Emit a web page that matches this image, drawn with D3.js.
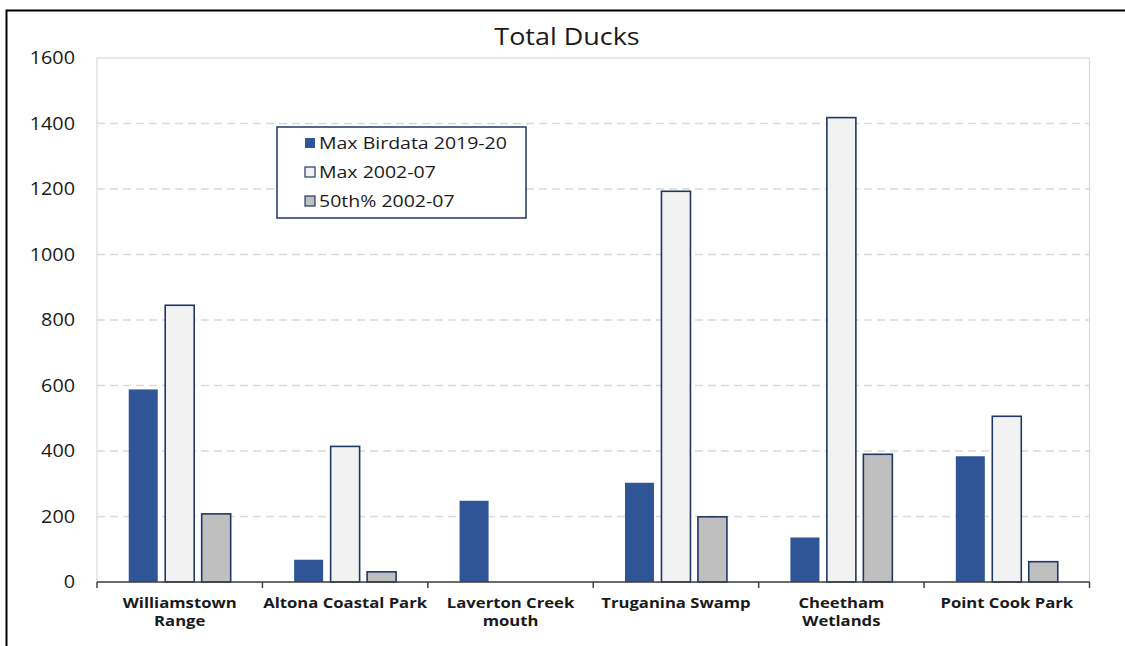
<!DOCTYPE html>
<html>
<head>
<meta charset="utf-8">
<script src="https://cdn.jsdelivr.net/npm/d3@7"></script>
<style>
  html, body { margin: 0; padding: 0; background: #fff; }
  svg { display: block; }
  text { font-family: "Open Sans", "DejaVu Sans", sans-serif; fill: #1a1a1a; }
</style>
</head>
<body>
<svg id="chart" width="1125" height="646"></svg>
<script>
// Sites surveyed (line breaks mark where the axis label wraps)
const categories = [
  "Williamstown\nRange",
  "Altona Coastal Park",
  "Laverton Creek\nmouth",
  "Truganina Swamp",
  "Cheetham\nWetlands",
  "Point Cook Park"
];
const seriesNames = ["Max Birdata 2019-20", "Max 2002-07", "50th% 2002-07"];
const maxBirdata1920 = [588, 68, 248, 303, 136, 384];
const max0207 = [845, 414, 0, 1193, 1418, 506];
const p50_0207 = [208, 31, 0, 199, 390, 62];
const yTicks = [0, 200, 400, 600, 800, 1000, 1200, 1400, 1600];

const seriesValues = [maxBirdata1920, max0207, p50_0207];
const fills = ["#2F5597", "#F2F2F2", "#BFBFBF"];
const strokes = ["#2F5597", "#203864", "#203864"];

const svg = d3.select("#chart");

// outer frame
svg.append("path")
  .attr("d", "M6.5,646 L6.5,10.5 L1125,10.5")
  .attr("fill", "none").attr("stroke", "#000").attr("stroke-width", 2);

const plot = { left: 97, right: 1089.5, top: 58, bottom: 582 };

const y = d3.scaleLinear().domain([0, 1600]).range([plot.bottom, plot.top]);
const x0 = d3.scaleBand().domain(categories).range([plot.left, plot.right]).padding(0);
const x1 = d3.scaleBand().domain(d3.range(seriesNames.length))
  .range([0, x0.bandwidth()]).paddingInner(0.205).paddingOuter(0.87);

// plot area outline
svg.append("rect")
  .attr("x", plot.left).attr("y", plot.top)
  .attr("width", plot.right - plot.left).attr("height", plot.bottom - plot.top)
  .attr("fill", "none").attr("stroke", "#d9d9d9").attr("stroke-width", 1.2);

// dashed gridlines
svg.append("g").selectAll("line")
  .data(yTicks.filter(t => t > 0 && t < 1600))
  .join("line")
  .attr("x1", plot.left).attr("x2", plot.right)
  .attr("y1", d => y(d)).attr("y2", d => y(d))
  .attr("stroke", "#d9d9d9").attr("stroke-width", 1.3)
  .attr("stroke-dasharray", "8,5");

// y axis labels (slightly widened glyphs)
const yAxis = d3.axisLeft(y).tickValues(yTicks).tickFormat(d3.format("d"))
  .tickSize(0).tickPadding(20);
const gy = svg.append("g").attr("transform", `translate(${plot.left},0)`).call(yAxis);
gy.select(".domain").remove();
gy.selectAll("text")
  .style("font-family", '"Open Sans", sans-serif')
  .style("font-size", "18px").attr("fill", "#1a1a1a")
  .attr("transform", "scale(1.1,1)");

// bars
const groups = svg.append("g").selectAll("g")
  .data(categories)
  .join("g")
  .attr("transform", d => `translate(${x0(d)},0)`);

groups.selectAll("rect")
  .data((d, i) => seriesValues.map((vals, s) => ({ s, v: vals[i] })))
  .join("rect")
  .filter(d => d.v > 0)
  .attr("x", d => x1(d.s))
  .attr("width", x1.bandwidth())
  .attr("y", d => y(d.v))
  .attr("height", d => y(0) - y(d.v))
  .attr("fill", d => fills[d.s])
  .attr("stroke", d => strokes[d.s])
  .attr("stroke-width", d => d.s === 0 ? 0 : 1.6);

// x axis with boundary ticks
const boundaries = categories.map(c => x0(c)).concat([plot.right]);
const gx = svg.append("g");
gx.append("line")
  .attr("x1", plot.left).attr("x2", plot.right)
  .attr("y1", y(0)).attr("y2", y(0))
  .attr("stroke", "#404040").attr("stroke-width", 1.5);
gx.selectAll("line.tick")
  .data(boundaries)
  .join("line").attr("class", "tick")
  .attr("x1", d => d).attr("x2", d => d)
  .attr("y1", y(0)).attr("y2", y(0) + 6)
  .attr("stroke", "#404040").attr("stroke-width", 1.5);

// category labels
const labels = gx.selectAll("text.cat")
  .data(categories)
  .join("text").attr("class", "cat")
  .attr("transform", d => `translate(${x0(d) + x0.bandwidth() / 2},608) scale(1.15,1)`)
  .attr("text-anchor", "middle")
  .style("font-size", "14.5px").style("font-weight", "bold");
labels.each(function (d) {
  const t = d3.select(this);
  d.split("\n").forEach((line, i) => {
    t.append("tspan").attr("x", 0)
      .attr("dy", i === 0 ? 0 : 18.5).text(line);
  });
});

// title
svg.append("text")
  .attr("transform", "translate(567,44.5) scale(1.1,1)")
  .attr("text-anchor", "middle")
  .style("font-size", "24.5px")
  .text("Total Ducks");

// legend
const legend = svg.append("g").attr("transform", "translate(277,127)");
legend.append("rect")
  .attr("width", 249).attr("height", 91)
  .attr("fill", "#fff").attr("stroke", "#203864").attr("stroke-width", 1.5);
const items = legend.selectAll("g.item")
  .data(seriesNames)
  .join("g").attr("class", "item")
  .attr("transform", (d, i) => `translate(28,${11 + i * 29})`);
items.append("rect")
  .attr("width", 10).attr("height", 10)
  .attr("fill", (d, i) => fills[i])
  .attr("stroke", (d, i) => strokes[i])
  .attr("stroke-width", (d, i) => i === 0 ? 0 : 1.2);
items.append("text")
  .attr("transform", "translate(14,11) scale(1.22,1)")
  .style("font-size", "16px")
  .text(d => d);
</script>
</body>
</html>
